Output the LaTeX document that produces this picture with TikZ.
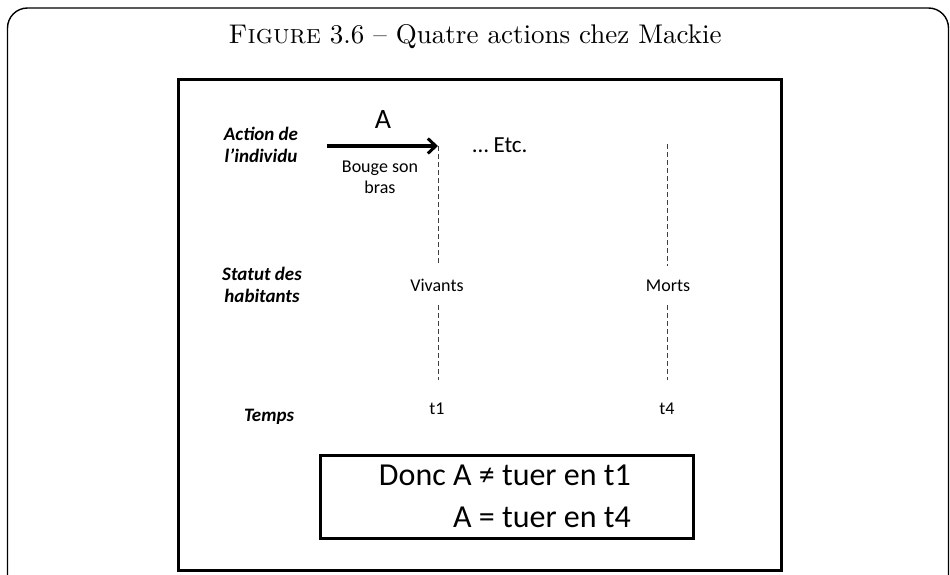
\documentclass[tikz,border=0pt]{standalone}
\usepackage{fontspec}
\newfontfamily\calfont{Carlito}
\usetikzlibrary{arrows.meta}
\begin{document}
\begin{tikzpicture}[x=1pt,y=-1pt,
  lab/.style={font=\calfont\bfseries\itshape\fontsize{19}{22}\selectfont, align=center, inner sep=0pt},
  small/.style={font=\calfont\fontsize{18}{21}\selectfont, align=center, inner sep=0pt},
  dashln/.style={draw=black!75, line width=1pt, dash pattern=on 5pt off 3pt},
  thickbox/.style={draw=black, line width=3pt}]
\useasboundingbox (0,0) rectangle (950,575);
\draw[line width=1.4pt, rounded corners=20pt] (7.5,620) -- (7.5,8) -- (948.5,8) -- (948.5,620);
\node[inner sep=0pt] (title) at (475,37) {\scalebox{2.7}{\fontsize{10}{12}\selectfont\textsc{Figure} 3.6 -- Quatre actions chez Mackie}};
\node[thickbox, minimum width=603pt, minimum height=490pt, inner sep=0pt] (frame) at (479.5,325) {};
\node[lab] (act) at (261,145) {Action de\\l’individu};
\node[lab] (stat) at (262,285) {Statut des\\habitants};
\node[lab] (temps) at (269,417) {Temps};
\coordinate (a0) at (327,146);
\coordinate (a1) at (438,146);
\draw[line width=3pt, -{Straight Barb[length=8pt,width=15pt,line width=3pt]}] (a0) -- (a1);
\node[font=\calfont\fontsize{28}{32}\selectfont, inner sep=0pt] (A) at (383,120) {A};
\node[small] (bouge) at (380,177) {Bouge son\\bras};
\node[font=\calfont\fontsize{23}{26}\selectfont, inner sep=0pt] (etc) at (500,145) {… Etc.};
\node[small] (viv) at (437,285) {Vivants};
\node[small] (morts) at (668,286) {Morts};
\node[small] (t1) at (437,409) {t1};
\node[small] (t4) at (667,409) {t4};
\coordinate (v1) at (438,265);
\coordinate (v2) at (438,305);
\coordinate (v3) at (438,380);
\coordinate (m0) at (667,144);
\coordinate (m1) at (667,266);
\coordinate (m2) at (667,305);
\coordinate (m3) at (667,380);
\draw[dashln] (a1) -- (v1);
\draw[dashln] (v2) -- (v3);
\draw[dashln] (m0) -- (m1);
\draw[dashln] (m2) -- (m3);
\node[thickbox, minimum width=373pt, minimum height=83pt, inner sep=0pt] (concl) at (506.5,496.5) {};
\node[font=\calfont\fontsize{32}{42}\selectfont, align=right, anchor=east, inner sep=0pt] (txt) at (631,496) {Donc A ≠ tuer en t1\\A = tuer en t4};
\end{tikzpicture}
\end{document}
